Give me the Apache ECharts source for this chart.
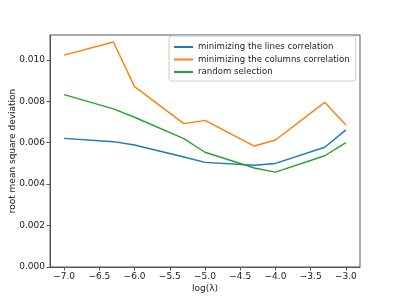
<!DOCTYPE html>
<html><head><meta charset="utf-8">
<script src="https://cdn.jsdelivr.net/npm/echarts@6/dist/echarts.min.js"></script>
<style>html,body{margin:0;padding:0;background:#fff}#c{width:400px;height:300px}</style>
</head><body><div id="c"></div>
<script>
var xValues = [-7.0, -6.3, -6.0, -5.3, -5.0, -4.3, -4.0, -3.3, -3.0];
var linesCorr = [0.00621, 0.00605, 0.00589, 0.00531, 0.00505, 0.00491, 0.00500, 0.00578, 0.00662];
var columnsCorr = [0.01023, 0.01086, 0.00871, 0.00692, 0.00708, 0.00584, 0.00613, 0.00795, 0.00686];
var randomSel = [0.00832, 0.00763, 0.00723, 0.00620, 0.00554, 0.00478, 0.00458, 0.00537, 0.00600];
var xTicks = [-7.0, -6.5, -6.0, -5.5, -5.0, -4.5, -4.0, -3.5, -3.0];
var yTicks = [0, 0.002, 0.004, 0.006, 0.008, 0.010];
var seriesNames = ['minimizing the lines correlation', 'minimizing the columns correlation', 'random selection'];

function pairs(ys){ return xValues.map(function(x,i){ return [x, ys[i]]; }); }
var font = 'DejaVu Sans';
var chart = echarts.init(document.getElementById('c'), null, {renderer:'canvas'});
var colors = ['#1f77b4', '#ff7f0e', '#2ca02c'];
var data = [linesCorr, columnsCorr, randomSel];
chart.setOption({
  backgroundColor: '#fff',
  animation: false,
  grid: {left: 50, right: 40, top: 35, bottom: 33, show: true, borderColor: '#555', borderWidth: 1,
    backgroundColor: 'transparent', outerBoundsMode: 'none', containLabel: false},
  xAxis: {
    type: 'value', min: -7.2, max: -2.8,
    name: 'log(λ)', nameLocation: 'middle', nameGap: 17, nameMoveOverlap: false,
    nameTextStyle: {fontFamily: font, fontSize: 9, color: '#222'},
    splitLine: {show: false},
    axisLine: {show: true, onZero: false, lineStyle: {color: '#555', width: 1}},
    axisTick: {show: true, length: 3.5, lineStyle: {color: '#555'}, customValues: xTicks},
    axisLabel: {customValues: xTicks, fontFamily: font, fontSize: 9, color: '#222', margin: 5,
      formatter: function(v){ return v.toFixed(1).replace('-', '\u2212'); }}
  },
  yAxis: {
    type: 'value', min: 0, max: 0.0112,
    name: 'root mean square deviation', nameLocation: 'middle', nameGap: 33, nameMoveOverlap: false,
    nameTextStyle: {fontFamily: font, fontSize: 9, color: '#222'},
    splitLine: {show: false},
    axisLine: {show: true, lineStyle: {color: '#555', width: 1}},
    axisTick: {show: true, length: 3.5, lineStyle: {color: '#555'}, customValues: yTicks},
    axisLabel: {customValues: yTicks, fontFamily: font, fontSize: 9, color: '#222', margin: 5,
      formatter: function(v){ return v.toFixed(3); }}
  },
  legend: {
    left: 169, top: 36, orient: 'vertical', align: 'left',
    itemWidth: 19, itemHeight: 2, itemGap: 2.5,
    icon: 'rect',
    padding: [6, 6, 4, 5],
    borderColor: '#ccc', borderWidth: 1, borderRadius: 3,
    backgroundColor: 'rgba(255,255,255,0.8)',
    textStyle: {fontFamily: font, fontSize: 8.6, lineHeight: 10, color: '#222'},
    data: seriesNames
  },
  series: seriesNames.map(function(n, i){
    return {name: n, type: 'line', data: pairs(data[i]), showSymbol: false, symbol: 'none',
      lineStyle: {color: colors[i], width: 1.4}, itemStyle: {color: colors[i]}};
  })
});
</script></body></html>
